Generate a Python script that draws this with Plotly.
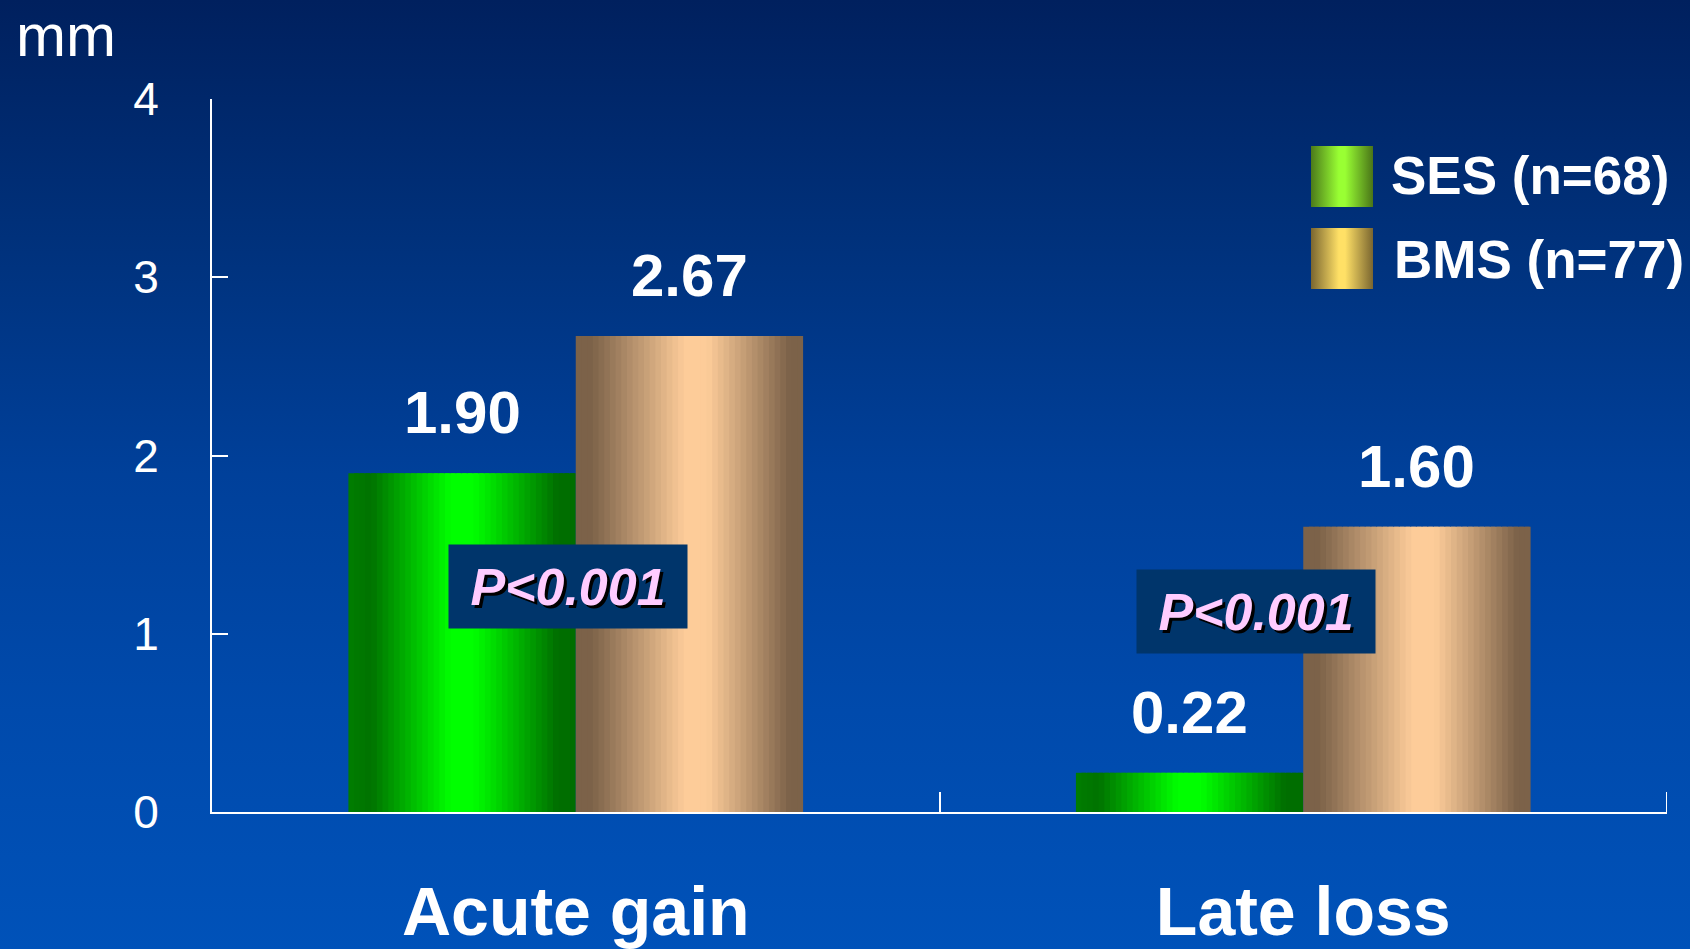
import base64
import plotly.graph_objects as go

# ---- data ----
categories = ["Acute gain", "Late loss"]
series_names = ["SES (n=68)", "BMS (n=77)"]
ses_values = [1.90, 0.22]
bms_values = [2.67, 1.60]
p_labels = ["P<0.001", "P<0.001"]
y_ticks = [0, 1, 2, 3, 4]
y_unit = "mm"

# ---- page geometry ----
W, H = 1690, 949
L, R, T, B = 212, 23, 99, 137
PW, PH = W - L - R, H - T - B


def px_x(px):
    return (px - L) / PW


def px_y(py):
    return (H - B - py) / PH


FONT = "Arial, 'Liberation Sans', sans-serif"
WHITE = "#ffffff"


def hex_rgb(h):
    h = h.lstrip("#")
    return tuple(int(h[i:i + 2], 16) for i in (0, 2, 4))


def sample(stops, t):
    for (t0, c0), (t1, c1) in zip(stops[:-1], stops[1:]):
        if t0 <= t <= t1:
            f = 0 if t1 == t0 else (t - t0) / (t1 - t0)
            a, b = hex_rgb(c0), hex_rgb(c1)
            return "rgb({},{},{})".format(*[round(a[i] + (b[i] - a[i]) * f) for i in range(3)])
    return stops[-1][1]


def svg_uri(svg):
    return "data:image/svg+xml;base64," + base64.b64encode(svg.encode()).decode()


def grad_svg(stops, horizontal, w=100, h=100):
    s = "".join(f'<stop offset="{o}" stop-color="{c}"/>' for o, c in stops)
    x2, y2 = (1, 0) if horizontal else (0, 1)
    return svg_uri(
        f'<svg xmlns="http://www.w3.org/2000/svg" width="{w}" height="{h}" viewBox="0 0 {w} {h}" preserveAspectRatio="none">'
        f'<defs><linearGradient id="g" x1="0" y1="0" x2="{x2}" y2="{y2}">{s}</linearGradient></defs>'
        f'<rect width="{w}" height="{h}" fill="url(#g)"/></svg>')


# cylinder-like shading across each bar
SES_STOPS = [(0.0, "#007d00"), (0.1, "#007300"), (0.45, "#00ff00"), (0.55, "#00ff00"),
             (0.92, "#006e00"), (1.0, "#006e00")]
BMS_STOPS = [(0.0, "#7c6249"), (0.07, "#7c6249"), (0.48, "#fdcc99"), (0.58, "#fdcc99"),
             (0.94, "#7c6249"), (1.0, "#7c6249")]
# legend swatch shading
SES_KEY = [(0, "#4c7a1a"), (0.45, "#99ff33"), (0.55, "#99ff33"), (1, "#4a7518")]
BMS_KEY = [(0, "#7a6630"), (0.45, "#ffe066"), (0.55, "#ffe066"), (1, "#7a6630")]
BG_STOPS = [(0, "#00205e"), (0.25, "#00317b"), (0.5, "#00409a"), (0.75, "#004aac"), (1, "#0052b9")]

BAR_W = 0.3125
N_STRIPS = 40
STEP = BAR_W / N_STRIPS

fig = go.Figure()
for values, stops, off0 in [(ses_values, SES_STOPS, -BAR_W), (bms_values, BMS_STOPS, 0.0)]:
    for k in range(N_STRIPS):
        t = (k + 0.5) / N_STRIPS
        # strips overlap the next one slightly so no seams show between them
        w = STEP if k == N_STRIPS - 1 else STEP * 1.8
        fig.add_trace(go.Bar(
            x=categories, y=values,
            offset=off0 + k * STEP, width=w,
            marker=dict(color=sample(stops, t), line=dict(width=0)),
            showlegend=False, hoverinfo="skip",
        ))

annotations = []
# value labels above bars
for values, off0 in [(ses_values, -BAR_W), (bms_values, 0.0)]:
    for i, v in enumerate(values):
        annotations.append(dict(
            x=i + off0 + BAR_W / 2, y=v, xref="x", yref="y",
            text=f"{v:.2f}", showarrow=False, yanchor="bottom", yshift=25,
            font=dict(family=FONT, size=60, color=WHITE, weight="bold"),
        ))

# significance boxes
p_pos = [(-0.011, 1.265), (0.935, 1.125)]
for (x, y), lab in zip(p_pos, p_labels):
    annotations.append(dict(
        x=x, y=y, xref="x", yref="y", text=lab.replace("<", "&lt;"), showarrow=False,
        bgcolor="#00356b", width=238, height=83, borderpad=0,
        font=dict(family=FONT, size=52, color="#ffccff", weight="bold", style="italic",
                  shadow="3px 3px 0px #000000"),
    ))

# unit label
annotations.append(dict(
    x=px_x(14), y=px_y(35), xref="paper", yref="paper", text=y_unit, showarrow=False,
    xanchor="left", yanchor="middle",
    font=dict(family=FONT, size=60, color=WHITE),
))

# legend entries
legend_rows = [(series_names[0], 1389, 175), (series_names[1], 1392, 259)]
for name, lx, cy in legend_rows:
    annotations.append(dict(
        x=px_x(lx), y=px_y(cy), xref="paper", yref="paper", text=name, showarrow=False,
        xanchor="left", yanchor="middle",
        font=dict(family=FONT, size=53, color=WHITE, weight="bold"),
    ))

images = [
    dict(source=grad_svg(BG_STOPS, False), xref="paper", yref="paper",
         x=px_x(0), y=px_y(0), sizex=W / PW, sizey=H / PH,
         xanchor="left", yanchor="top", sizing="stretch", layer="below"),
    dict(source=grad_svg(SES_KEY, True), xref="paper", yref="paper",
         x=px_x(1311), y=px_y(146), sizex=62 / PW, sizey=61 / PH,
         xanchor="left", yanchor="top", sizing="stretch", layer="above"),
    dict(source=grad_svg(BMS_KEY, True), xref="paper", yref="paper",
         x=px_x(1311), y=px_y(228), sizex=62 / PW, sizey=61 / PH,
         xanchor="left", yanchor="top", sizing="stretch", layer="above"),
]

# closing tick at the right end of the category axis
shapes = [dict(type="line", xref="x", yref="y", x0=len(categories) - 0.5, x1=len(categories) - 0.5,
               ysizemode="pixel", yanchor=0, y0=0, y1=20,
               line=dict(color=WHITE, width=2))]

fig.update_layout(
    width=W, height=H,
    margin=dict(l=L, r=R, t=T, b=B, pad=0, autoexpand=False),
    paper_bgcolor="#003a8c", plot_bgcolor="rgba(0,0,0,0)",
    barmode="overlay", showlegend=False,
    annotations=annotations, images=images, shapes=shapes,
    font=dict(family=FONT, color=WHITE),
)
fig.update_xaxes(
    automargin=False, range=[-0.5, 1.5],
    showline=True, linecolor=WHITE, linewidth=2, showgrid=False, zeroline=False,
    ticks="inside", tickson="boundaries", ticklen=20, tickwidth=2, tickcolor=WHITE,
    tickfont=dict(family=FONT, size=68, color=WHITE, weight="bold"),
    ticklabelstandoff=39,
)
fig.update_yaxes(
    automargin=False,
    range=[0, 4], tickvals=y_ticks, showline=True, linecolor=WHITE, linewidth=2,
    showgrid=False, zeroline=False,
    ticks="inside", ticklen=16, tickwidth=2, tickcolor=WHITE,
    tickfont=dict(family=FONT, size=46, color=WHITE),
    ticklabelstandoff=42,
)

fig.write_html("out.html", config={"displayModeBar": False})
